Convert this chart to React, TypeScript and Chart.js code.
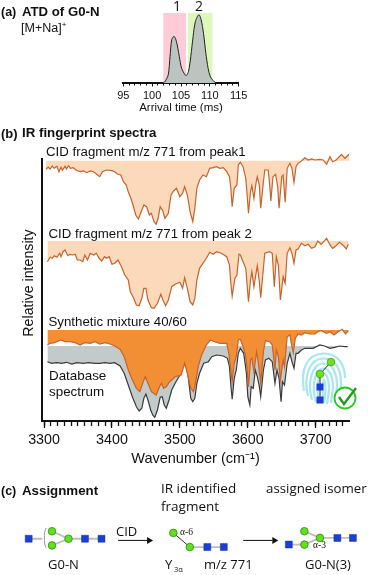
import React, { useEffect, useRef } from "react";
import { Chart, registerables } from "chart.js";

Chart.register(...registerables);

// ---------- (a) arrival time distribution ----------
const atdTime = [100, 101.9, 102.3, 102.8, 103.1, 103.4, 103.8, 104.2, 104.7, 105.1, 105.6, 105.9, 106.3, 106.7, 107.1, 107.5, 108.1, 108.5, 108.9, 109.3, 109.7, 110.1, 110.6, 111];
const atdIntensity = [0, 0, 3, 12, 38, 62, 66.6, 59.5, 38, 21, 13, 10.5, 16.7, 38, 66.6, 88, 97.6, 90, 71, 43, 21, 8.6, 3.3, 0];
const peak1Window = [101.9, 105.9];
const peak2Window = [106.2, 110.5];
const windowTop = 100;

// ---------- (b) IR spectra ----------
const peak1Wave = [3303, 3306, 3309, 3312, 3315, 3319, 3322, 3325, 3327, 3331, 3333, 3336, 3339, 3343, 3347, 3353, 3358, 3363, 3368, 3373, 3377, 3382, 3386, 3392, 3400, 3404, 3408, 3413, 3417, 3421, 3424, 3427, 3431, 3435, 3439, 3443, 3447, 3451, 3455, 3458, 3462, 3465, 3468, 3471, 3475, 3478, 3483, 3487, 3491, 3495, 3500, 3504, 3507, 3511, 3515, 3519, 3522, 3525, 3529, 3534, 3539, 3544, 3549, 3554, 3559, 3564, 3569, 3573, 3575, 3577, 3580, 3584, 3586, 3589, 3593, 3597, 3599, 3601, 3604, 3606, 3609, 3612, 3614, 3617, 3619, 3623, 3625, 3630, 3632, 3634, 3637, 3641, 3644, 3646, 3650, 3652, 3655, 3658, 3662, 3665, 3668, 3671, 3674, 3679, 3684, 3689, 3694, 3699, 3706, 3711, 3716, 3721, 3725, 3730, 3738, 3743, 3749];
const peak1Signal = [251.7, 254, 252, 255, 252.7, 254.7, 249.3, 253.7, 250.7, 254.7, 252, 255.3, 252.7, 253.3, 251, 249.3, 250, 248.3, 250, 249.3, 247, 244.3, 249.3, 251, 250.3, 249.3, 247, 246, 239.3, 236, 229.3, 224.3, 216, 206, 202, 209.3, 216, 214.3, 206, 207.7, 199.3, 196.7, 202.7, 214.3, 210, 202.7, 207.7, 226, 230.3, 232.7, 224.3, 227.7, 234.3, 226, 209.3, 199.3, 212.7, 232.7, 241, 246, 244.3, 252.7, 253.3, 254.3, 252.7, 253.3, 249.3, 244.3, 232.7, 214.3, 232.7, 236, 256, 258.7, 254.3, 242.7, 226, 207.7, 229.3, 235.3, 222.7, 237.7, 244.3, 236, 212.7, 239.3, 251, 251, 237.7, 220, 244.3, 246.7, 234.3, 212.7, 244.3, 246, 218.7, 252.7, 257.7, 252.7, 238.7, 254.3, 257.7, 260, 263.3, 261, 262, 261, 261.7, 261, 256.7, 264.3, 259.3, 261, 266.7, 262.7, 266.7];
const peak1Band = 260.3;

const peak2Wave = [3305, 3309, 3312, 3315, 3319, 3323, 3325, 3328, 3331, 3335, 3338, 3342, 3346, 3349, 3353, 3357, 3360, 3364, 3368, 3373, 3377, 3381, 3385, 3389, 3392, 3396, 3400, 3404, 3409, 3414, 3419, 3424, 3427, 3431, 3436, 3440, 3444, 3447, 3450, 3453, 3458, 3462, 3467, 3472, 3475, 3479, 3483, 3488, 3493, 3500, 3504, 3507, 3511, 3515, 3519, 3522, 3525, 3529, 3534, 3539, 3544, 3549, 3554, 3561, 3569, 3573, 3575, 3577, 3581, 3584, 3587, 3589, 3593, 3597, 3599, 3601, 3604, 3606, 3609, 3614, 3617, 3619, 3623, 3625, 3632, 3636, 3639, 3642, 3645, 3648, 3652, 3655, 3658, 3662, 3665, 3668, 3671, 3674, 3679, 3684, 3689, 3694, 3699, 3703, 3708, 3716, 3721, 3725, 3730, 3735, 3740, 3745, 3748];
const peak2Signal = [159.3, 163.7, 162.7, 165.3, 163.7, 167.7, 164.3, 169.3, 171, 165.3, 166.7, 166, 166.7, 161, 161, 159.3, 166, 161, 167.7, 166, 167.7, 162.7, 160, 164.3, 162.7, 164.3, 156.7, 157.7, 161, 154.3, 146, 141, 129.3, 124.3, 116, 115.3, 122.7, 132.7, 132.7, 121, 113.3, 112.7, 117.7, 126.7, 121, 115.3, 121, 134.3, 136.7, 138.7, 132.7, 143.3, 132.7, 119.3, 116, 122.7, 141, 152.7, 157.7, 162.7, 168.7, 166.7, 169.3, 167.7, 164.3, 156, 137.7, 125, 142.7, 146, 166.7, 166, 159.3, 152.7, 136, 119.3, 141, 149.3, 134.3, 155.3, 139.3, 123.3, 152.7, 167.7, 169.3, 167.7, 134.3, 164.3, 156, 121, 144.3, 137.7, 167.7, 173.3, 167.7, 157.7, 171, 172, 177.7, 175.3, 176.7, 172.7, 174.3, 180, 176.7, 182.7, 176, 172.7, 175.3, 178.7, 176, 172, 176.7];
const peak2Band = 180;

const synthWave = [3305, 3309, 3316, 3324, 3331, 3338, 3346, 3353, 3360, 3368, 3375, 3382, 3390, 3397, 3404, 3412, 3418, 3424, 3430, 3436, 3441, 3446, 3449, 3453, 3458, 3465, 3470, 3473, 3476, 3480, 3485, 3493, 3502, 3507, 3511, 3516, 3520, 3523, 3527, 3532, 3539, 3545, 3551, 3559, 3569, 3572, 3575, 3577, 3580, 3583, 3586, 3589, 3593, 3597, 3599, 3601, 3604, 3606, 3609, 3613, 3615, 3619, 3623, 3626, 3632, 3636, 3640, 3642, 3645, 3648, 3652, 3654, 3658, 3662, 3664, 3667, 3670, 3674, 3679, 3684, 3691, 3699, 3703, 3708, 3716, 3721, 3727, 3733, 3739, 3744, 3748];
const synthSignal = [76, 77.7, 78.3, 81, 79.3, 79.3, 78.3, 76, 78.3, 77.7, 79.3, 77, 78.3, 77, 75, 71.7, 64.3, 51, 41, 32.7, 29.3, 39.3, 44.3, 37.7, 29.3, 26, 34.3, 37.7, 32.7, 34.3, 39.3, 44.3, 46, 57.7, 47.7, 32.7, 29.3, 37.7, 54.3, 66, 76, 81, 79.3, 77.7, 77.7, 67.7, 51, 39.3, 57.7, 64.3, 81, 81.7, 74.3, 64.3, 51, 34.3, 61, 62.7, 49.3, 69.3, 61, 37.7, 69.3, 80.3, 79.3, 76, 51, 71, 64.3, 41, 61, 54.3, 84.3, 86, 77.7, 68.3, 82.7, 87, 86, 88.3, 87, 87, 89.3, 90.3, 87.7, 89.3, 86, 89.3, 91.7, 87, 90.3];
const synthBand = 91;

const dbWave = [3305, 3311, 3319, 3326, 3333, 3341, 3348, 3358, 3365, 3375, 3382, 3390, 3397, 3404, 3412, 3418, 3424, 3430, 3436, 3440, 3444, 3447, 3450, 3453, 3457, 3460, 3463, 3467, 3471, 3474, 3477, 3480, 3484, 3488, 3493, 3500, 3505, 3508, 3512, 3516, 3519, 3522, 3525, 3529, 3535, 3542, 3547, 3554, 3564, 3570, 3573, 3575, 3577, 3580, 3583, 3586, 3589, 3594, 3598, 3600, 3603, 3605, 3608, 3611, 3614, 3617, 3619, 3623, 3626, 3631, 3636, 3640, 3643, 3646, 3649, 3651, 3654, 3658, 3662, 3665, 3668, 3671, 3674, 3679, 3684, 3689, 3696, 3706, 3713, 3721, 3728, 3735, 3743, 3747];
const dbSignal = [59.3, 57.7, 58.3, 57.7, 58.7, 57, 58.3, 57.7, 58.3, 57.7, 57.7, 58.3, 57.7, 58.3, 55, 47.7, 36, 24.3, 14.3, 10, 12.7, 22.7, 27, 21, 11, 6, 3.7, 11, 23.7, 24.3, 16, 12.7, 21, 31, 37.7, 46, 57.7, 58.3, 46, 22.7, 19.3, 22.7, 37.7, 47.7, 57.7, 59.3, 64.3, 66, 65, 62.7, 54.3, 36, 21.7, 42.7, 51, 67.7, 72.7, 67.7, 47.7, 24.3, 16, 34.3, 32.7, 51, 44.3, 34.3, 24.3, 51, 61, 62.7, 59.3, 37.7, 51, 42.7, 19.3, 39.3, 36, 57.7, 67.7, 59.3, 52.7, 67.7, 67.7, 71, 72.7, 72.7, 72.7, 76, 75, 72.7, 73.7, 75, 74.3, 74.3];
const dbBand = 75;

// ---------- (c) glycan schemes ----------
const glucosamineX = [24, 82, 99, 208, 225, 292, 342, 358];
const glucosamineY = [538, 538, 538, 548, 548, 545, 537, 537];
const mannoseX = [48, 48, 65, 173, 190, 308, 308, 324];
const mannoseY = [529, 546, 538, 531, 548, 529, 545, 537];
const glycanLinks = [
  { x: [24, 38], y: [538, 538] },
  { x: [65, 99], y: [538, 538] },
  { x: [48, 65], y: [529, 538] },
  { x: [48, 65], y: [546, 538] },
  { x: [190, 225], y: [548, 548] },
  { x: [292, 308], y: [545, 545] },
  { x: [308, 324], y: [529, 537] },
  { x: [308, 324], y: [545, 537] },
  { x: [324, 358], y: [537, 537] },
];
const alphaLink = { x: [173, 190], y: [531, 548] };
const bracketX = [42, 40.5, 40.5, 42];
const bracketY = [525, 530, 544, 549];
const arrowsX = [[116, 146], [245, 275]];
const arrowsY = [[540, 540], [540, 540]];

const zip = (xs: number[], ys: number[]) => xs.map((x, i) => ({ x, y: ys[i] }));
const AXIS_FONT = "'Liberation Sans', Arial, sans-serif";
const SOFT_FONT = "'Open Sans', 'Noto Sans', sans-serif";

function spectrum(xs: number[], ys: number[], band: number, fillColor: string, lineColor: string, order: number) {
  return {
    type: "line" as const,
    data: zip(xs, ys),
    borderColor: lineColor,
    borderWidth: 1.2,
    pointRadius: 0,
    tension: 0,
    order,
    fill: { target: { value: band }, above: fillColor, below: fillColor },
  };
}

function useChart(config: () => any) {
  const ref = useRef<HTMLCanvasElement | null>(null);
  useEffect(() => {
    if (!ref.current) return;
    const c = new Chart(ref.current, config());
    return () => c.destroy();
  }, []);
  return ref;
}

function Label(p: { x: number; y: number; size: number; text?: string; bold?: boolean; font?: string; children?: React.ReactNode }) {
  return (
    <div style={{ position: "absolute", left: p.x, top: p.y, transform: "translateY(-50%)", fontSize: p.size, fontWeight: p.bold ? 700 : 400, fontFamily: p.font || AXIS_FONT, whiteSpace: "nowrap", lineHeight: 1, color: "#111" }}>
      {p.text}{p.children}
    </div>
  );
}

function atdConfig() {
  const band = (w: number[], color: string) => ({
    type: "line" as const,
    data: [{ x: w[0], y: windowTop }, { x: w[1], y: windowTop }],
    borderWidth: 0,
    pointRadius: 0,
    order: 5,
    fill: { target: { value: 0 }, above: color },
  });
  return {
    type: "line",
    data: {
      datasets: [
        band(peak1Window, "#fdccd6"),
        band(peak2Window, "#def7bd"),
        {
          type: "line" as const,
          data: zip(atdTime, atdIntensity),
          borderColor: "#222",
          borderWidth: 1,
          pointRadius: 0,
          tension: 0.3,
          order: 1,
          fill: { target: { value: 0 }, above: "#bcc4c0" },
        },
      ],
    },
    options: {
      animation: false,
      responsive: false,
      layout: { padding: { left: 23.3, right: 21.3, top: 13, bottom: 0 } },
      plugins: { legend: { display: false }, tooltip: { enabled: false } },
      scales: {
        y: { display: false, min: 0, max: 100 },
        xMinor: {
          type: "linear", position: "bottom", min: 95, max: 115, weight: -1,
          afterFit: (s: any) => { s.height = 0; },
          border: { display: false },
          grid: { drawOnChartArea: false, tickLength: 2.5, tickWidth: 1, tickColor: "#111" },
          ticks: { display: false, stepSize: 1, autoSkip: false, includeBounds: false },
        },
        x: {
          type: "linear", position: "bottom", min: 95, max: 115, weight: 1,
          afterFit: (s: any) => { s.height = 32; },
          border: { display: true, color: "#111", width: 2 },
          grid: { drawOnChartArea: false, tickLength: 3.5, tickWidth: 1, tickColor: "#111" },
          ticks: { stepSize: 5, padding: 2.5, maxRotation: 0, autoSkip: false, color: "#111", font: { family: AXIS_FONT, size: 11 } },
          title: { display: true, text: "Arrival time (ms)", color: "#111", padding: 0, font: { family: AXIS_FONT, size: 11.5 } },
        },
      },
    },
  };
}

function irConfig() {
  const xMin = 3297;
  const xMax = 3749;
  return {
    type: "line",
    data: {
      datasets: [
        spectrum(peak1Wave, peak1Signal, peak1Band, "#fdd9bb", "#c8632a", 1),
        spectrum(peak2Wave, peak2Signal, peak2Band, "#fdd9bb", "#c8632a", 1),
        spectrum(synthWave, synthSignal, synthBand, "#f28e33", "#c8632a", 1),
        spectrum(dbWave, dbSignal, dbBand, "#c3cbca", "#3a3a3a", 3),
        {
          type: "line" as const,
          data: [{ x: xMin, y: 0 }, { x: xMin, y: 263 }],
          borderColor: "#111",
          borderWidth: 2,
          pointRadius: 0,
          order: 0,
          clip: false,
        },
      ],
    },
    options: {
      animation: false,
      responsive: false,
      layout: { padding: { left: 42, right: 20, top: 6, bottom: 0 } },
      plugins: { legend: { display: false }, tooltip: { enabled: false } },
      scales: {
        y: { display: false, min: 0, max: 275 },
        xMinor: {
          type: "linear", position: "bottom", min: xMin, max: xMax, weight: -1,
          afterFit: (s: any) => { s.height = 0; },
          border: { display: false },
          grid: { drawOnChartArea: false, tickLength: 5, tickWidth: 1.3, tickColor: "#111" },
          ticks: { display: false, stepSize: 10, autoSkip: false, includeBounds: false },
        },
        x: {
          type: "linear", position: "bottom", min: xMin, max: xMax, weight: 1,
          afterFit: (s: any) => { s.height = 49; },
          border: { display: true, color: "#111", width: 2 },
          grid: { drawOnChartArea: false, tickLength: 7, tickWidth: 1.3, tickColor: "#111" },
          ticks: { stepSize: 100, includeBounds: false, padding: 3, maxRotation: 0, autoSkip: false, color: "#111", font: { family: AXIS_FONT, size: 14.3 }, callback: (v: number) => String(v) },
          title: { display: true, text: "Wavenumber (cm\u207B\u00B9)", color: "#111", padding: { top: 0, bottom: 2 }, font: { family: AXIS_FONT, size: 14.5 } },
        },
      },
    },
  };
}

function glycanConfig() {
  const linkSet = (x: number[], y: number[], color: string, width: number) => ({
    type: "line" as const, data: zip(x, y), borderColor: color, borderWidth: width, pointRadius: 0, order: 5,
  });
  return {
    type: "line",
    data: {
      datasets: [
        ...glycanLinks.map((l) => linkSet(l.x, l.y, "#bdbdbd", 1.8)),
        linkSet(alphaLink.x, alphaLink.y, "#333", 1),
        { ...linkSet(bracketX, bracketY, "#999", 1), tension: 0.4 },
        ...arrowsX.map((ax, i) => linkSet(ax, arrowsY[i], "#111", 1)),
        ...arrowsX.map((ax, i) => ({
          type: "scatter" as const,
          data: [{ x: ax[1] + 2, y: arrowsY[i][1] }],
          pointStyle: "triangle", rotation: 90, radius: 4, backgroundColor: "#111", borderWidth: 0, order: 2,
        })),
        {
          type: "scatter" as const, data: zip(glucosamineX, glucosamineY),
          pointStyle: "rect", radius: 4.9, backgroundColor: "#1b3fd6", borderColor: "#12309f", borderWidth: 0.5, order: 1,
        },
        {
          type: "scatter" as const, data: zip(mannoseX, mannoseY),
          pointStyle: "circle", radius: 3.8, backgroundColor: "#62e01e", borderColor: "#2f8a12", borderWidth: 0.8, order: 1,
        },
      ],
    },
    options: {
      animation: false,
      responsive: false,
      layout: { padding: 0 },
      plugins: { legend: { display: false }, tooltip: { enabled: false } },
      scales: {
        x: { type: "linear", display: false, min: 0, max: 369 },
        y: { display: false, min: 510, max: 575, reverse: true },
      },
    },
  };
}

function FingerprintIcon() {
  const cyan = "#a8e7f1";
  const arcs = [
    "M304 391 C300 370 307 354 323 353.5 C338 353 345 365 345 378",
    "M308 396 C303 376 310 359 323 358.5 C335 358 341 368 341 384 L340 396",
    "M312 400 C307 382 312 364 323 363.5 C332 363 337 372 337 386 L335 402",
    "M316 402 C311 386 315 369 323 368.5 C329 368 333 376 333 388 L331 403",
    "M320 403 C315 390 318 374 323 373.5 C327 373 329 380 329 390 L327 404",
    "M324 403 C322 394 322 384 324 380 C326 384 326 394 324 403",
  ];
  return (
    <svg width={369} height={575} style={{ position: "absolute", left: 0, top: 0, pointerEvents: "none" }}>
      {arcs.map((d, i) => (
        <path key={i} d={d} fill="none" stroke={cyan} strokeWidth={2.2} />
      ))}
      <line x1={331} y1={362} x2={320} y2={374} stroke="#222" strokeWidth={1} />
      <line x1={320} y1={374} x2={320} y2={400} stroke="#222" strokeWidth={1} />
      <circle cx={331} cy={362} r={3.8} fill="#6ee01e" stroke="#3aa512" strokeWidth={0.8} />
      <circle cx={320} cy={374} r={3.8} fill="#6ee01e" stroke="#3aa512" strokeWidth={0.8} />
      <rect x={316.5} y={383.5} width={7} height={7} fill="#1b3fd6" />
      <rect x={316.5} y={396.5} width={7} height={7} fill="#1b3fd6" />
      <circle cx={345} cy={398} r={10.5} fill="#fff" stroke="#28c81e" strokeWidth={1.8} />
      <path d="M339 397 L344 404 L356 388" fill="none" stroke="#1f9a1f" strokeWidth={2.4} />
    </svg>
  );
}

export default function App() {
  const atdRef = useChart(atdConfig);
  const irRef = useChart(irConfig);
  const glycanRef = useChart(glycanConfig);
  return (
    <div style={{ position: "absolute", left: 0, top: 0, width: 369, height: 575, background: "#fff", overflow: "hidden" }}>
      <canvas ref={atdRef} width={160} height={115} style={{ position: "absolute", left: 100, top: 0, width: 160, height: 115 }} />
      <canvas ref={irRef} width={369} height={330} style={{ position: "absolute", left: 0, top: 140, width: 369, height: 330 }} />
      <canvas ref={glycanRef} width={369} height={65} style={{ position: "absolute", left: 0, top: 510, width: 369, height: 65 }} />
      <FingerprintIcon />

      <Label x={1} y={12} size={12.5} bold text="(a)" />
      <Label x={22} y={12} size={13.2} bold text="ATD of G0-N" />
      <Label x={21} y={28} size={12.5}>[M+Na]<sup style={{ fontSize: 8, lineHeight: 0 }}>+</sup></Label>
      <Label x={173} y={6} size={14} font={SOFT_FONT} text="1" />
      <Label x={195} y={6} size={14} font={SOFT_FONT} text="2" />

      <Label x={1} y={133} size={13} bold text="(b)" />
      <Label x={22} y={133} size={13.3} bold text="IR fingerprint spectra" />
      <Label x={46} y={152} size={13.25} text="CID fragment m/z 771 from peak1" />
      <Label x={48.5} y={234} size={13.25} text="CID fragment m/z 771 from peak 2" />
      <Label x={48.5} y={322} size={13.25} text="Synthetic mixture 40/60" />
      <Label x={49} y={376} size={13.4} text="Database" />
      <Label x={49} y={392} size={13.4} text="spectrum" />
      <div style={{ position: "absolute", left: 28, top: 283, transform: "translate(-50%,-50%) rotate(-90deg)", fontSize: 14.2, fontFamily: AXIS_FONT, whiteSpace: "nowrap", lineHeight: 1, color: "#111" }}>Relative intensity</div>

      <Label x={1} y={491} size={12.5} bold text="(c)" />
      <Label x={22} y={491} size={13.3} bold text="Assignment" />
      <Label x={161} y={489} size={13.5} font={SOFT_FONT} text="IR identified" />
      <Label x={161} y={507} size={13.5} font={SOFT_FONT} text="fragment" />
      <Label x={266} y={489} size={13.3} font={SOFT_FONT} text="assigned isomer" />
      <Label x={116} y={531} size={13} font={SOFT_FONT} text="CID" />
      <Label x={48} y={564} size={13} font={SOFT_FONT} text="G0-N" />
      <Label x={165} y={564} size={13} font={SOFT_FONT} text="Y" />
      <Label x={174} y={570} size={7.5} font={SOFT_FONT} text={"3\u03B1"} />
      <Label x={204} y={564} size={13} font={SOFT_FONT} text="m/z 771" />
      <Label x={305} y={564} size={13} font={SOFT_FONT} text="G0-N(3)" />
      <Label x={180} y={533} size={9.5} font="'Liberation Serif', serif" text={"\u03B1-6"} />
      <Label x={313} y={546} size={9.5} font="'Liberation Serif', serif" text={"\u03B1-3"} />
    </div>
  );
}
